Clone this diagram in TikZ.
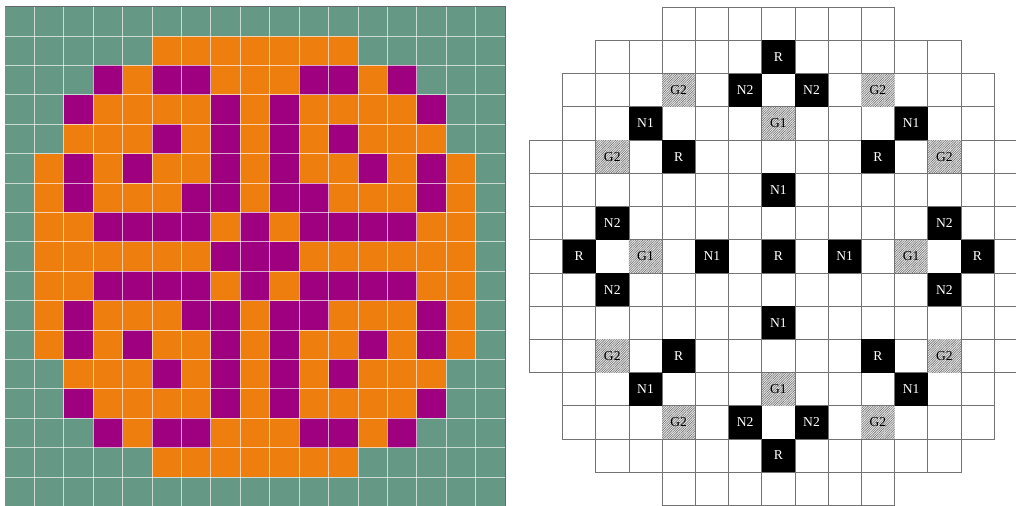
\documentclass[tikz,border=0pt]{standalone}
\usepackage{fontspec}
\setmainfont{Liberation Serif}
\usetikzlibrary{patterns.meta}

\definecolor{vert}{RGB}{101,153,133}
\definecolor{orange}{RGB}{238,126,14}
\definecolor{violet}{RGB}{158,0,128}

\tikzset{
  gridline/.style={white, opacity=0.65, line width=0.6pt},
  cellule/.style={draw=black!55, line width=0.6pt},
  barre/.style={minimum size=24.9pt, inner sep=0pt, font=\fontsize{10.2}{11}\selectfont},
  noir/.style={barre, fill=black, text=white},
  hachure/.style={barre, preaction={fill=black!8}, pattern={Lines[angle=45, distance=1.25pt, line width=0.45pt]}, pattern color=black!55}
}

\begin{document}
\begin{tikzpicture}[x=0.75pt, y=-0.75pt]

% Cadre de la page
\clip (0,0) rectangle (1016,506);
\fill[white] (0,0) rectangle (1016,506);

% Paramètres
\def\pasg{29.41}
\def\pasd{33.2}

% Carte de gauche
\begin{scope}[shift={(5,6.5)}, x=\pasg*0.75pt, y=-\pasg*0.75pt]
  \fill[vert] (0,0) rectangle (17,17);
  % Zones orange
  \foreach \r/\a/\b in {1/5/12, 2/3/14, 3/2/15, 4/2/15, 5/1/16, 6/1/16, 7/1/16, 8/1/16,
                        9/1/16, 10/1/16, 11/1/16, 12/2/15, 13/2/15, 14/3/14, 15/5/12}
    \fill[orange] (\a,\r) rectangle (\b,\r+1);
  % Cases violettes
  \foreach \r/\cols in {2/{3,5,6,10,11,13}, 3/{2,7,9,14}, 4/{5,7,9,11},
                        5/{2,4,7,9,12,14}, 6/{2,6,7,9,10,14},
                        7/{3,4,5,6,8,10,11,12,13}, 8/{7,8,9},
                        9/{3,4,5,6,8,10,11,12,13}, 10/{2,6,7,9,10,14},
                        11/{2,4,7,9,12,14}, 12/{5,7,9,11}, 13/{2,7,9,14},
                        14/{3,5,6,10,11,13}}
    \foreach \c in \cols
      \fill[violet] (\c,\r) rectangle (\c+1,\r+1);
  % Quadrillage
  \foreach \i in {1,...,16} {
    \draw[gridline] (\i,0) -- (\i,17);
    \draw[gridline] (0,\i) -- (17,\i);
  }
  \draw[black!60, line width=0.6pt] (0,0) -- (17,0);
  \draw[black!60, line width=0.6pt] (17,0) -- (17,17);
\end{scope}

% Carte de droite
\begin{scope}[shift={(529.3,7.3)}, x=\pasd*0.75pt, y=-\pasd*0.75pt]
  % Cases vides
  \foreach \r/\a/\b in {0/4/10, 1/2/12, 2/1/13, 3/1/13, 4/0/14, 5/0/14, 6/0/14, 7/0/14,
                        8/0/14, 9/0/14, 10/0/14, 11/1/13, 12/1/13, 13/2/12, 14/4/10}
    \foreach \c in {\a,...,\b}
      \draw[cellule] (\c,\r) rectangle (\c+1,\r+1);
  % Barres de commande
  \foreach \r/\c/\nom in {1/7/R, 2/6/N2, 2/8/N2, 3/3/N1, 3/11/N1, 4/4/R, 4/10/R,
                          5/7/N1, 6/2/N2, 6/12/N2, 7/1/R, 7/5/N1, 7/7/R, 7/9/N1, 7/13/R,
                          8/2/N2, 8/12/N2, 9/7/N1, 10/4/R, 10/10/R, 11/3/N1, 11/11/N1,
                          12/6/N2, 12/8/N2, 13/7/R}
    \node[noir] (b\r-\c) at (\c+0.5,\r+0.5) {\nom};
  % Barres grises
  \foreach \r/\c/\nom in {2/4/G2, 2/10/G2, 3/7/G1, 4/2/G2, 4/12/G2, 7/3/G1, 7/11/G1,
                          10/2/G2, 10/12/G2, 11/7/G1, 12/4/G2, 12/10/G2}
    \node[hachure] (g\r-\c) at (\c+0.5,\r+0.5) {\nom};
\end{scope}

\end{tikzpicture}
\end{document}
